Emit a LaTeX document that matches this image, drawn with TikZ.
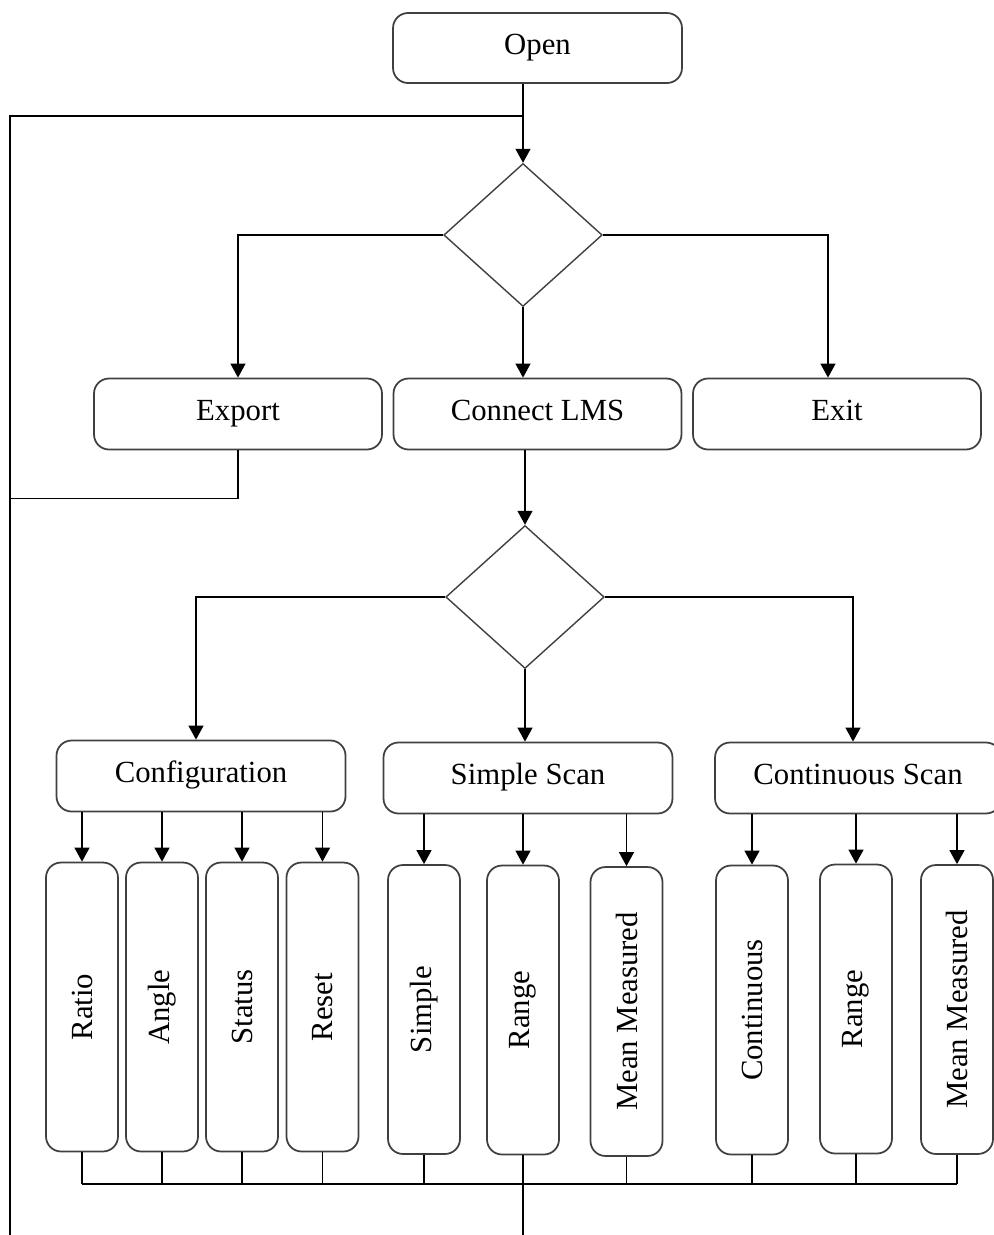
\documentclass[tikz,border=0pt]{standalone}
\usepackage{fontspec}
\setmainfont{Liberation Serif}
\usepackage{graphicx}
\usetikzlibrary{arrows.meta, shapes.geometric}

\begin{document}
\begin{tikzpicture}[
  x=0.02cm, y=-0.02cm,
  base/.style={draw=black!75, line width=1pt, rounded corners=0.3cm, align=center, font=\fontsize{17.5}{20}\selectfont, inner sep=0pt},
  box/.style={base, minimum width=5.78cm, minimum height=1.42cm, text height=2.2ex, text depth=0.5ex},
  vbox/.style={base, minimum width=1.44cm, minimum height=5.78cm},
  dec/.style={draw=black!75, line width=0.8pt, diamond, minimum width=3.17cm, minimum height=2.86cm, inner sep=0pt},
  arr/.style={-{Triangle[width=8.5pt,length=8pt]}, line width=0.9pt},
  line/.style={line width=0.9pt}
]
\useasboundingbox (0,0) rectangle (994,1235);
% main menu
\node[box, minimum height=1.4cm] (open) at (537.5,48) {Open};
\node[dec] (dec1) at (523,235) {};
\node[box, minimum width=5.76cm] (export)  at (238,414) {Export};
\node[box, minimum width=5.76cm] (connect) at (537.5,414) {Connect LMS};
\node[box, minimum width=5.76cm] (exit)    at (837,414) {Exit};
\node[dec] (dec2) at (525,597) {};
\node[box] (config) at (201,776) {Configuration};
\node[box] (simple) at (528,778) {Simple Scan};
\node[box, minimum width=5.72cm] (cont) at (858,778) {Continuous Scan};
% sub menus
\node[vbox] (ratio)  at (82,1007)    {\rotatebox{90}{Ratio}};
\node[vbox] (angle)  at (162,1007)   {\rotatebox{90}{Angle}};
\node[vbox] (status) at (242,1007)   {\rotatebox{90}{Status}};
\node[vbox] (reset)  at (322.5,1007) {\rotatebox{90}{Reset}};
\node[vbox] (single) at (424,1009.5) {\rotatebox{90}{Simple}};
\node[vbox] (range1) at (523,1010)   {\rotatebox{90}{Range}};
\node[vbox] (mean1)  at (626.5,1011.5) {\rotatebox{90}{Mean Measured}};
\node[vbox] (contin) at (752,1010)   {\rotatebox{90}{Continuous}};
\node[vbox] (range2) at (856,1009)   {\rotatebox{90}{Range}};
\node[vbox] (mean2)  at (957,1009.5) {\rotatebox{90}{Mean Measured}};
\coordinate (join) at (523,116);
\coordinate (lb) at (10,1235);
\coordinate (bus) at (0,1184);
\coordinate (out) at (523,1235);
% return path
\draw[line] (join) -| (lb);
\draw[line] (export.south) -- ++(0,48) -| (lb);
% menu arrows
\draw[arr] (open.south -| join) -- (dec1.north);
\draw[arr] (dec1.west) -| (export.north);
\draw[arr] (dec1.south) -- (dec1.south |- connect.north);
\draw[arr] (dec1.east) -| ([xshift=-0.18cm]exit.north);
\draw[arr] (connect.south -| dec2.north) -- (dec2.north);
\draw[arr] (dec2.west) -| ([xshift=-0.1cm]config.north);
\draw[arr] (dec2.south) -- (dec2.south |- simple.north);
\draw[arr] (dec2.east) -| ([xshift=-0.1cm]cont.north);
% sub menu arrows
\draw[arr] (config.south -| ratio) -- (ratio.north);
\draw[arr] (config.south -| angle) -- (angle.north);
\draw[arr] (config.south -| status) -- (status.north);
\draw[arr] (config.south -| reset) -- (reset.north);
\draw[arr] (simple.south -| single) -- (single.north);
\draw[arr] (simple.south -| range1) -- (range1.north);
\draw[arr] (simple.south -| mean1) -- (mean1.north);
\draw[arr] (cont.south -| contin) -- (contin.north);
\draw[arr] (cont.south -| range2) -- (range2.north);
\draw[arr] (cont.south -| mean2) -- (mean2.north);
% bottom bus
\draw[line] (ratio.south) -- (ratio |- bus);
\draw[line] (angle.south) -- (angle |- bus);
\draw[line] (status.south) -- (status |- bus);
\draw[line] (reset.south) -- (reset |- bus);
\draw[line] (single.south) -- (single |- bus);
\draw[line] (mean1.south) -- (mean1 |- bus);
\draw[line] (contin.south) -- (contin |- bus);
\draw[line] (range2.south) -- (range2 |- bus);
\draw[line] (mean2.south) -- (mean2 |- bus);
\draw[line] (ratio |- bus) -- (mean2 |- bus);
\draw[line] (range1.south) -- (out);
\end{tikzpicture}
\end{document}
